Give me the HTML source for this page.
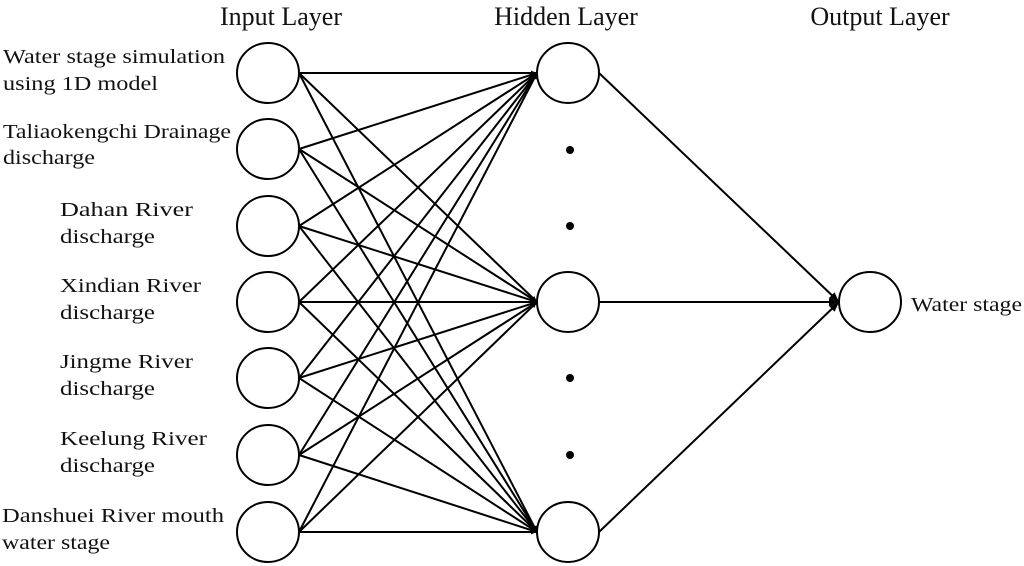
<!DOCTYPE html>
<html><head><meta charset="utf-8"><style>html,body{margin:0;padding:0;background:#fff}svg{display:block}</style></head>
<body>
<svg width="1024" height="566" viewBox="0 0 1024 566" xmlns="http://www.w3.org/2000/svg" font-family="'Liberation Serif', serif" fill="#111">
<defs><marker id="a" viewBox="0 0 10 10" refX="10" refY="5" markerWidth="6" markerHeight="6" orient="auto" markerUnits="userSpaceOnUse"><path d="M0,1 L10,5 L0,9 z" fill="#000"/></marker>
<marker id="b" viewBox="0 0 10 10" refX="10" refY="5" markerWidth="10" markerHeight="10" orient="auto" markerUnits="userSpaceOnUse"><path d="M0,1 L10,5 L0,9 z" fill="#000"/></marker></defs>
<g stroke="#000" stroke-width="2">
<line x1="299" y1="73" x2="537" y2="73" marker-end="url(#a)"/><line x1="299" y1="73" x2="537" y2="302" marker-end="url(#a)"/><line x1="299" y1="73" x2="537" y2="532" marker-end="url(#a)"/>
<line x1="299" y1="149" x2="537" y2="73" marker-end="url(#a)"/><line x1="299" y1="149" x2="537" y2="302" marker-end="url(#a)"/><line x1="299" y1="149" x2="537" y2="532" marker-end="url(#a)"/>
<line x1="299" y1="226" x2="537" y2="73" marker-end="url(#a)"/><line x1="299" y1="226" x2="537" y2="302" marker-end="url(#a)"/><line x1="299" y1="226" x2="537" y2="532" marker-end="url(#a)"/>
<line x1="299" y1="302" x2="537" y2="73" marker-end="url(#a)"/><line x1="299" y1="302" x2="537" y2="302" marker-end="url(#a)"/><line x1="299" y1="302" x2="537" y2="532" marker-end="url(#a)"/>
<line x1="299" y1="378" x2="537" y2="73" marker-end="url(#a)"/><line x1="299" y1="378" x2="537" y2="302" marker-end="url(#a)"/><line x1="299" y1="378" x2="537" y2="532" marker-end="url(#a)"/>
<line x1="299" y1="455" x2="537" y2="73" marker-end="url(#a)"/><line x1="299" y1="455" x2="537" y2="302" marker-end="url(#a)"/><line x1="299" y1="455" x2="537" y2="532" marker-end="url(#a)"/>
<line x1="299" y1="532" x2="537" y2="73" marker-end="url(#a)"/><line x1="299" y1="532" x2="537" y2="302" marker-end="url(#a)"/><line x1="299" y1="532" x2="537" y2="532" marker-end="url(#a)"/>
<line x1="599" y1="73" x2="839" y2="302" marker-end="url(#b)"/><line x1="599" y1="302" x2="839" y2="302" marker-end="url(#b)"/><line x1="599" y1="532" x2="839" y2="302" marker-end="url(#b)"/>
</g>
<g stroke="#000" stroke-width="2" fill="#fff">
<ellipse cx="268" cy="73" rx="31" ry="30"/><ellipse cx="268" cy="149" rx="31" ry="30"/><ellipse cx="268" cy="226" rx="31" ry="30"/><ellipse cx="268" cy="302" rx="31" ry="30"/><ellipse cx="268" cy="378" rx="31" ry="30"/><ellipse cx="268" cy="455" rx="31" ry="30"/><ellipse cx="268" cy="532" rx="31" ry="30"/>
<ellipse cx="568" cy="73" rx="31" ry="30"/><ellipse cx="568" cy="302" rx="31" ry="30"/><ellipse cx="568" cy="532" rx="31" ry="30"/>
<ellipse cx="870" cy="302" rx="31" ry="30"/>
</g>
<g fill="#000"><circle cx="570" cy="150" r="4"/><circle cx="570" cy="226" r="4"/><circle cx="570" cy="378" r="4"/><circle cx="570" cy="455" r="4"/></g>
<g font-size="26" text-anchor="middle">
<text x="281" y="25">Input Layer</text><text x="566" y="25">Hidden Layer</text><text x="880" y="25">Output Layer</text>
</g>
<g font-size="20">
<text x="3" y="63" textLength="222" lengthAdjust="spacingAndGlyphs">Water stage simulation</text>
<text x="3" y="90" textLength="155" lengthAdjust="spacingAndGlyphs">using 1D model</text>
<text x="3" y="138" textLength="228" lengthAdjust="spacingAndGlyphs">Taliaokengchi Drainage</text>
<text x="3" y="164" textLength="92" lengthAdjust="spacingAndGlyphs">discharge</text>
<text x="60" y="216" textLength="133" lengthAdjust="spacingAndGlyphs">Dahan  River</text>
<text x="60" y="243" textLength="95" lengthAdjust="spacingAndGlyphs">discharge</text>
<text x="60" y="292" textLength="141" lengthAdjust="spacingAndGlyphs">Xindian River</text>
<text x="60" y="319" textLength="95" lengthAdjust="spacingAndGlyphs">discharge</text>
<text x="60" y="368" textLength="133" lengthAdjust="spacingAndGlyphs">Jingme River</text>
<text x="60" y="395" textLength="95" lengthAdjust="spacingAndGlyphs">discharge</text>
<text x="60" y="445" textLength="147" lengthAdjust="spacingAndGlyphs">Keelung River</text>
<text x="60" y="472" textLength="95" lengthAdjust="spacingAndGlyphs">discharge</text>
<text x="2" y="522" textLength="222" lengthAdjust="spacingAndGlyphs">Danshuei River mouth</text>
<text x="2" y="549" textLength="108" lengthAdjust="spacingAndGlyphs">water stage</text>
<text x="911" y="311" textLength="111" lengthAdjust="spacingAndGlyphs">Water stage</text>
</g>
</svg>
</body></html>
